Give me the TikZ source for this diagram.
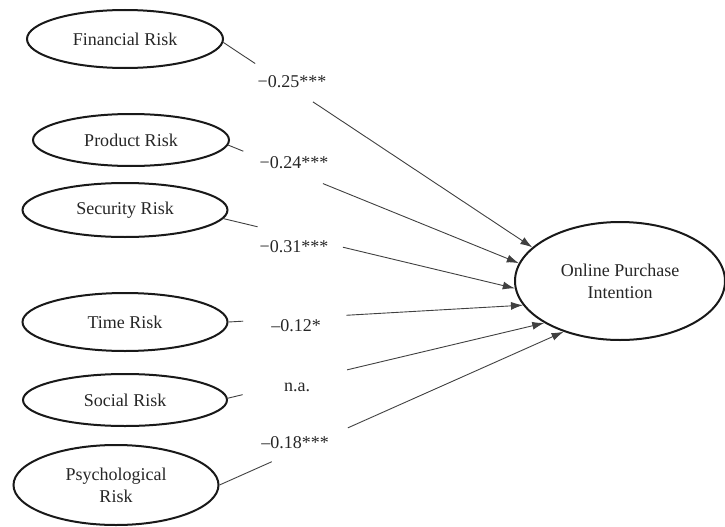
\documentclass[tikz,border=0pt]{standalone}
\usepackage{fontspec}
\setmainfont{Liberation Serif}
\usetikzlibrary{shapes.geometric,arrows.meta}
\begin{document}
\begin{tikzpicture}[x=1pt,y=-1pt,
  risk/.style={ellipse,draw=black!90,line width=2pt,inner sep=0pt,text=black!85,
    font=\fontsize{18}{22}\selectfont,align=center},
  coef/.style={anchor=base,inner sep=0pt,text=black!85,font=\fontsize{18}{22}\selectfont},
  link/.style={draw=black!75,line width=0.9pt},
  arr/.style={link,-{Latex[length=12pt,width=8pt]}}]
\useasboundingbox (0,0) rectangle (725,527);
% nodes
\node[risk,minimum width=196pt,minimum height=58pt] (fin) at (125,39) {Financial Risk};
\node[risk,minimum width=196pt,minimum height=52pt] (prod) at (131,140) {Product Risk};
\node[risk,minimum width=205pt,minimum height=54pt] (sec) at (125,210) {Security Risk};
\node[risk,minimum width=205pt,minimum height=58pt] (time) at (125,322) {Time Risk};
\node[risk,minimum width=204pt,minimum height=52pt] (soc) at (125,400) {Social Risk};
\node[risk,minimum width=205pt,minimum height=80pt] (psy) at (116,485) {Psychological\\Risk};
\node[risk,minimum width=210pt,minimum height=118pt] (opi) at (620,281) {Online Purchase\\Intention};
% coefficients
\node[coef] (c1) at (292,87.5) {−0.25***};
\node[coef] (c2) at (294,168.3) {−0.24***};
\node[coef] (c3) at (294,252) {−0.31***};
\node[coef] (c4) at (296,331.7) {–0.12*};
\node[coef] (c5) at (297,391.7) {n.a.};
\node[coef] (c6) at (295,448.3) {–0.18***};
% connector gaps
\path (fin.-2) -- (opi.159.7) coordinate[pos=0.103] (f1) coordinate[pos=0.29] (f2);
\path (prod.-3.5) -- (opi.170.3) coordinate[pos=0.052] (p1) coordinate[pos=0.326] (p2);
\path (sec.-5.5) -- (opi.-176) coordinate[pos=0.117] (s1) coordinate[pos=0.41] (s2);
\path (time.0) -- (opi.194.3) coordinate[pos=0.05] (t1) coordinate[pos=0.40] (t2);
\path (soc.1) -- (opi.209.6) coordinate[pos=0.047] (o1) coordinate[pos=0.377] (o2);
\path (psy.0) -- (opi.222.9) coordinate[pos=0.152] (y1) coordinate[pos=0.373] (y2);
% connectors
\draw[link] (fin.-2) -- (f1);   \draw[arr] (f2) -- (opi.159.7);
\draw[link] (prod.-3.5) -- (p1); \draw[arr] (p2) -- (opi.170.3);
\draw[link] (sec.-5.5) -- (s1);  \draw[arr] (s2) -- (opi.-176);
\draw[link] (time.0) -- (t1);    \draw[arr] (t2) -- (opi.194.3);
\draw[link] (soc.1) -- (o1);     \draw[arr] (o2) -- (opi.209.6);
\draw[link] (psy.0) -- (y1);     \draw[arr] (y2) -- (opi.222.9);
\end{tikzpicture}
\end{document}
